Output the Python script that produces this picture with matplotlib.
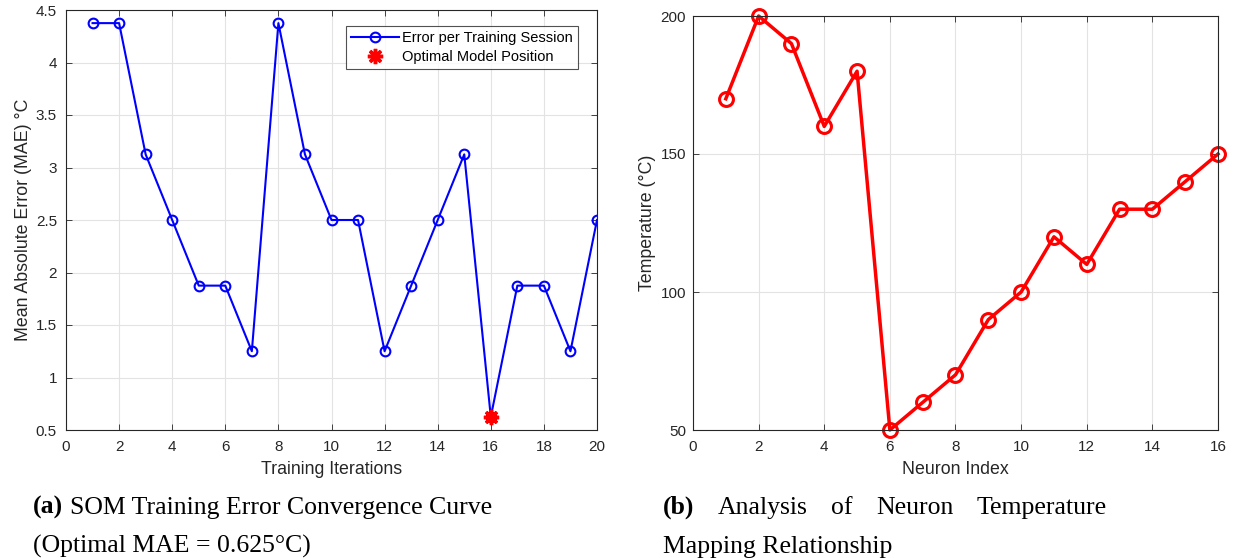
import matplotlib
matplotlib.use("Agg")
import matplotlib.pyplot as plt
import numpy as np

# Data
iterations = list(range(1, 21))
mae = [4.375, 4.375, 3.125, 2.5, 1.875, 1.875, 1.25, 4.375, 3.125, 2.5,
       2.5, 1.25, 1.875, 2.5, 3.125, 0.625, 1.875, 1.875, 1.25, 2.5]
best_iter = 16
best_mae = 0.625

neurons = list(range(1, 17))
temps = [170, 200, 190, 160, 180, 50, 60, 70, 90, 100, 120, 110, 130, 130, 140, 150]

left_xticks = list(range(0, 21, 2))
left_yticks = [0.5, 1, 1.5, 2, 2.5, 3, 3.5, 4, 4.5]
left_ytick_labels = ['0.5', '1', '1.5', '2', '2.5', '3', '3.5', '4', '4.5']
right_xticks = list(range(0, 17, 2))
right_yticks = [50, 100, 150, 200]

plt.rcParams['font.family'] = ['Liberation Sans', 'DejaVu Sans']
fig = plt.figure(figsize=(12.33, 5.58), dpi=100)

W, H = 1233, 558
def ax_rect(x0, x1, ytop, ybot):
    return [x0 / W, 1 - ybot / H, (x1 - x0) / W, (ybot - ytop) / H]

spine_c = '#262626'
grid_c = '#e3e3e3'
tick_fs = 11
lab_fs = 12.8

def style(ax, ypad):
    for s in ax.spines.values():
        s.set_color(spine_c)
        s.set_linewidth(0.8)
    ax.tick_params(direction='in', top=True, right=True, length=4, width=0.6,
                   colors=spine_c, labelsize=tick_fs, labelcolor='#262626')
    ax.tick_params(axis='x', pad=7)
    ax.tick_params(axis='y', pad=ypad)
    ax.grid(True, color=grid_c, linewidth=0.8)
    ax.set_axisbelow(True)

ax1 = fig.add_axes(ax_rect(66, 597, 10, 430))
ax1.plot(iterations, mae, color='#0000ff', linewidth=1.5, marker='o',
         markersize=7, markerfacecolor='none', markeredgewidth=1.5,
         label='Error per Training Session')
ax1.plot([best_iter], [best_mae], linestyle='none', marker=(8, 2, 0),
         markersize=11, color='#ff0000', markeredgewidth=2.5,
         label='Optimal Model Position')
ax1.set_xlim(0, 20)
ax1.set_ylim(0.5, 4.5)
ax1.set_xticks(left_xticks)
ax1.set_yticks(left_yticks)
ax1.set_yticklabels(left_ytick_labels)
ax1.set_xlabel('Training Iterations', fontsize=lab_fs, color='#262626', labelpad=5.5)
ax1.set_ylabel('Mean Absolute Error (MAE) °C', fontsize=lab_fs, color='#262626', labelpad=3)
style(ax1, 6.5)
leg = ax1.legend(loc='upper right', fontsize=10.5, frameon=True, fancybox=False,
                 edgecolor=spine_c, borderpad=0.35, handlelength=3.3,
                 handletextpad=0.2, borderaxespad=0,
                 bbox_to_anchor=(0.964, 0.962), labelspacing=0.35)
leg.get_frame().set_linewidth(0.8)

ax2 = fig.add_axes(ax_rect(693, 1218, 16, 430))
ax2.plot(neurons, temps, color='#ff0000', linewidth=2.5, marker='o',
         markersize=10, markerfacecolor='none', markeredgewidth=2.2, clip_on=False)
ax2.set_xlim(0, 16)
ax2.set_ylim(50, 200)
ax2.set_xticks(right_xticks)
ax2.set_yticks(right_yticks)
ax2.set_xlabel('Neuron Index', fontsize=lab_fs, color='#262626', labelpad=5.5)
ax2.set_ylabel('Temperature (°C)', fontsize=lab_fs, color='#262626', labelpad=3.5)
style(ax2, 5)

serif = ['Liberation Serif', 'DejaVu Serif']
cap_fs = 18.5
fig.canvas.draw()
renderer = fig.canvas.get_renderer()

def width_px(s, bold=False):
    t = fig.text(0, 0, s, fontsize=cap_fs, family=serif,
                 fontweight='bold' if bold else 'normal')
    w = t.get_window_extent(renderer).width
    t.remove()
    return w

space = width_px('a a') - width_px('aa')
line1_y = 1 - 514 / H
line2_y = 1 - 553 / H

# caption (a)
x0 = 33
fig.text(x0 / W, line1_y, '(a)', fontsize=cap_fs, va='baseline', ha='left',
         family=serif, fontweight='bold')
xa = x0 + width_px('(a)', True) + space
fig.text(xa / W, line1_y, 'SOM Training Error Convergence Curve', fontsize=cap_fs,
         va='baseline', ha='left', family=serif)
fig.text(x0 / W, line2_y, '(Optimal MAE = 0.625°C)', fontsize=cap_fs,
         va='baseline', ha='left', family=serif)

# caption (b), justified first line
bx0, bx1 = 663, 1107
words = [('(b)', True), ('Analysis', False), ('of', False), ('Neuron', False),
         ('Temperature', False)]
widths = [width_px(w, b) for w, b in words]
gap = (bx1 - bx0 - sum(widths)) / (len(words) - 1)
x = bx0
for (w, b), wd in zip(words, widths):
    fig.text(x / W, line1_y, w, fontsize=cap_fs, va='baseline', ha='left',
             family=serif, fontweight='bold' if b else 'normal')
    x += wd + gap
fig.text(bx0 / W, line2_y, 'Mapping Relationship', fontsize=cap_fs, va='baseline',
         ha='left', family=serif)

fig.savefig('out.png', dpi=100)
